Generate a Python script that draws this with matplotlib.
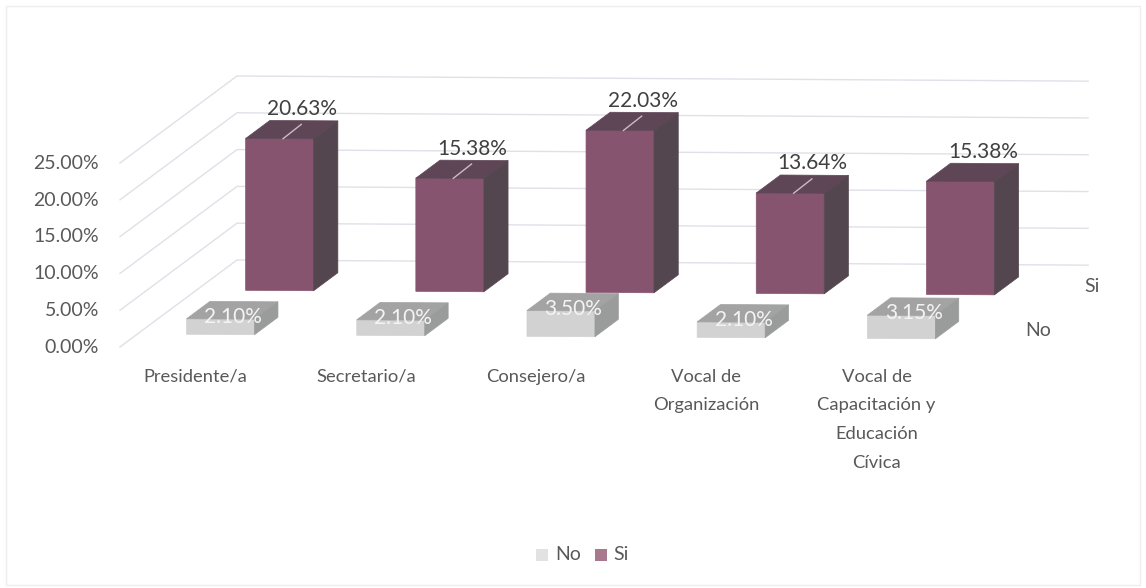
import matplotlib
matplotlib.use("Agg")
import matplotlib.pyplot as plt
from matplotlib.patches import Polygon, Rectangle

plt.rcParams['font.family'] = ['Lato', 'DejaVu Sans']

categories = ["Presidente/a", "Secretario/a", "Consejero/a",
              "Vocal de\nOrganización",
              "Vocal de\nCapacitación y\nEducación\nCívica"]
no_values = [2.10, 2.10, 3.50, 2.10, 3.15]
si_values = [20.63, 15.38, 22.03, 13.64, 15.38]
y_ticks = [0, 5, 10, 15, 20, 25]
series_names = ["No", "Si"]

# size of one category and one percent on the page
PX_CAT = 170.2
PX_PCT = 7.36
# the oblique look: how far the back wall sits from the front of the floor
WALL_DX = 117 / PX_CAT
WALL_DY = 87 / PX_PCT
# the scan is a little crooked
TILT = 0.14

def proj(cat, val, depth=0.0):
    return (cat + depth * WALL_DX, val + depth * WALL_DY - TILT * cat)

def box(ax, cat, width, val, d0, d1, front, top, side, z):
    x0, x1 = cat, cat + width
    pts = [
        ([proj(x0, 0, d0), proj(x1, 0, d0), proj(x1, val, d0), proj(x0, val, d0)], front),
        ([proj(x0, val, d0), proj(x1, val, d0), proj(x1, val, d1), proj(x0, val, d1)], top),
        ([proj(x1, 0, d0), proj(x1, 0, d1), proj(x1, val, d1), proj(x1, val, d0)], side),
    ]
    for p, c in pts:
        ax.add_patch(Polygon(p, closed=True, fc=c, ec=c, lw=0.5, zorder=z))

fig = plt.figure(figsize=(11.46, 5.88), dpi=100)
ax = fig.add_axes([0, 0, 1, 1])
ax.set_xlim(-120 / PX_CAT, (1146 - 120) / PX_CAT)
ax.set_ylim((347 - 588) / PX_PCT, 347 / PX_PCT)
ax.axis("off")

# page frame
ax.add_patch(Rectangle((-114 / PX_CAT, -238 / PX_PCT), 1134 / PX_CAT, 579 / PX_PCT,
                       fill=False, ec="#eeeeee", lw=1.0, zorder=0))

n = len(categories)
grid_c = "#e0e0e8"
for t in y_ticks:
    a = proj(0, t, 0)
    b = proj(0, t, 1)
    c = proj(n, t, 1)
    ax.plot([a[0], b[0], c[0]], [t, b[1], c[1]], color=grid_c, lw=1.0, zorder=1)
    ax.text(-21 / PX_CAT, t - 0.05, f"{t:.2f}%", ha="right", va="center",
            fontsize=14, color="#595959")

bar_w = 68 / PX_CAT
offset = 49 / PX_CAT
no_d0, no_d1 = 0.15, 0.35
si_d0, si_d1 = 0.655, 0.862

for i in range(n):
    cat = i + offset
    box(ax, cat, bar_w, si_values[i], si_d0, si_d1, "#875470", "#5f4657", "#54464f", 3)
    box(ax, cat, bar_w, no_values[i], no_d0, no_d1, "#d2d2d2", "#a3a3a3", "#9a9c9c", 4)

    # value labels
    lx, ly = proj(cat + bar_w * 0.5, si_values[i], si_d1)
    ax.text(lx - 0.01, ly + 0.25, f"{si_values[i]:.2f}%", ha="center", va="bottom",
            fontsize=15, color="#404040", zorder=6)
    # leader line from the label to the top of the bar, the last bar has none
    if i < n - 1:
        s = proj(cat + bar_w * 0.5, si_values[i], si_d0)
        e = proj(cat + bar_w * 0.5, si_values[i], si_d1)
        ax.plot([s[0] + 0.02, e[0] - 0.015], [s[1], e[1] - 0.5], color="#c9bcc4", lw=1.0, zorder=5)

    nx, ny = proj(cat + bar_w * 0.5, no_values[i], no_d1)
    ax.text(nx - 0.065, ny - 2.1, f"{no_values[i]:.2f}%",
            ha="center", va="center", fontsize=15, color="#f4f4f4", zorder=6)

    # category labels
    gx, gy = proj(i + 0.5, -3.0, 0)
    ax.text(gx - 0.055, gy + TILT * i + 0.1, categories[i], ha="center", va="top",
            fontsize=13.2, color="#595959", linespacing=1.97)

# depth axis labels
ax.text(proj(n, 0, 0.2)[0] + 90 / PX_CAT, (347 - 286) / PX_PCT, series_names[1],
        ha="left", va="center", fontsize=14, color="#595959")
ax.text(proj(n, 0, 0)[0] + 54 / PX_CAT, (347 - 330) / PX_PCT, series_names[0],
        ha="left", va="center", fontsize=14, color="#595959")

# legend
ly = (347 - 555) / PX_PCT
ax.add_patch(Rectangle(((536 - 120) / PX_CAT, ly - 6 / PX_PCT), 12 / PX_CAT, 12 / PX_PCT,
                       fc="#e2e2e2", ec="none"))
ax.text((555 - 120) / PX_CAT, ly, series_names[0], ha="left", va="center",
        fontsize=14, color="#595959")
ax.add_patch(Rectangle(((595 - 120) / PX_CAT, ly - 6 / PX_PCT), 12 / PX_CAT, 12 / PX_PCT,
                       fc="#a8788e", ec="none"))
ax.text((613 - 120) / PX_CAT, ly, series_names[1], ha="left", va="center",
        fontsize=14, color="#595959")

fig.savefig("out.png", dpi=100)
